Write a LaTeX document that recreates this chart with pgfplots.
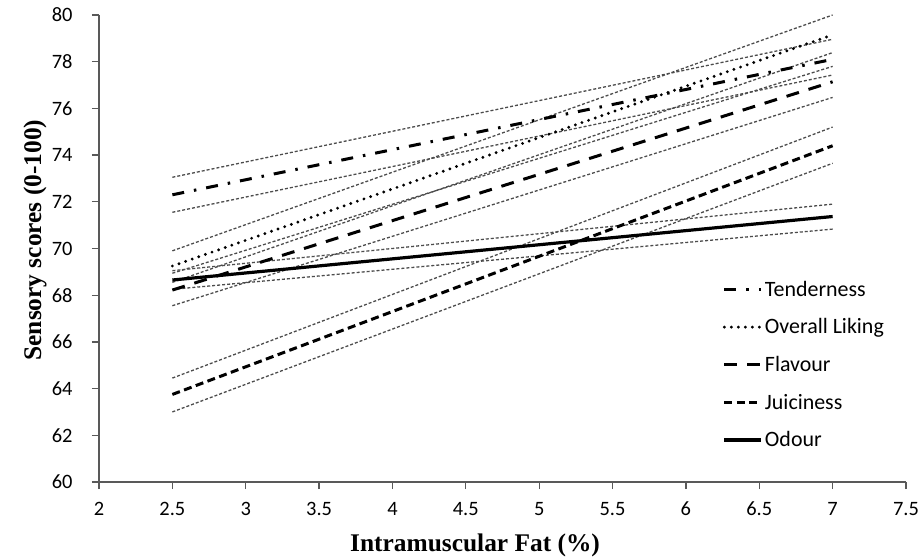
\documentclass[border=0pt]{standalone}
\usepackage{fontspec}
\setmainfont{Carlito}
\newfontfamily\timesfont{Liberation Serif}
\usepackage{pgfplots}
\pgfplotsset{compat=1.18}

\begin{document}
\begin{tikzpicture}
\path[use as bounding box] (0,0) rectangle (922bp,558bp);
\begin{axis}[
  at={(99bp,76bp)}, anchor=south west,
  scale only axis, width=807bp, height=467bp,
  xmin=2, xmax=7.5, ymin=60, ymax=80,
  xtick={2,2.5,3,3.5,4,4.5,5,5.5,6,6.5,7,7.5},
  ytick={60,62,64,66,68,70,72,74,76,78,80},
  axis x line*=bottom, axis y line*=left,
  axis line style={black!65, line width=1.3bp, -},
  tick style={black!65, line width=1.3bp},
  tick align=outside, major tick length=7bp,
  ticklabel style={font=\fontsize{20.5}{24}\selectfont},
  /pgf/number format/assume math mode=true,
  /pgf/number format/fixed,
  xticklabel style={yshift=-9bp, text height=14bp, text depth=0bp},
  yticklabel style={xshift=-16bp},
  xlabel={\timesfont\bfseries Intramuscular Fat (\%)},
  ylabel={\timesfont\bfseries Sensory scores (0-100)},
  label style={font=\fontsize{25.5}{30}\selectfont},
  xlabel style={at={(axis description cs:0.466,-0.1349)}, anchor=center},
  ylabel style={at={(axis description cs:-0.0793,0.518)}, anchor=center},
  legend style={at={(axis cs:6.25,68.7)}, anchor=north west, draw=none, fill=none,
    font=\fontsize{22}{26}\selectfont, row sep=17bp, inner sep=0pt},
  legend cell align=left,
  legend image code/.code={\draw[#1] (0bp,0bp) -- (37bp,0bp);},
  ci/.style={gray!60!black, line width=1.3bp, dash pattern=on 3bp off 2bp, forget plot},
]
% confidence lines
\addplot[ci] coordinates {(2.5,73.05) (7,78.96)};
\addplot[ci] coordinates {(2.5,71.55) (7,77.43)};
\addplot[ci] coordinates {(2.5,69.9) (7,80.0)};
\addplot[ci] coordinates {(2.5,68.55) (7,78.39)};
\addplot[ci] coordinates {(2.5,68.94) (7,77.8)};
\addplot[ci] coordinates {(2.5,67.55) (7,76.47)};
\addplot[ci] coordinates {(2.5,64.45) (7,75.2)};
\addplot[ci] coordinates {(2.5,63.0) (7,73.65)};
\addplot[ci] coordinates {(2.5,69.05) (7,71.9)};
\addplot[ci] coordinates {(2.5,68.25) (7,70.83)};
% fitted lines
\addplot[black, line width=3bp, dash pattern=on 12bp off 10bp on 2.5bp off 10bp]
  coordinates {(2.5,72.3) (7,78.1)};
\addlegendentry{Tenderness}
\addplot[black, line width=3.2bp, line cap=round, dash pattern=on 0bp off 7bp]
  coordinates {(2.5,69.25) (7,79.15)};
\addlegendentry{Overall Liking}
\addplot[black, line width=3bp, dash pattern=on 13bp off 10bp]
  coordinates {(2.5,68.22) (7,77.14)};
\addlegendentry{Flavour}
\addplot[black, line width=3bp, dash pattern=on 8bp off 4.5bp]
  coordinates {(2.5,63.75) (7,74.4)};
\addlegendentry{Juiciness}
\addplot[black, line width=3.2bp]
  coordinates {(2.5,68.65) (7,71.37)};
\addlegendentry{Odour}
\end{axis}
\end{tikzpicture}
\end{document}
